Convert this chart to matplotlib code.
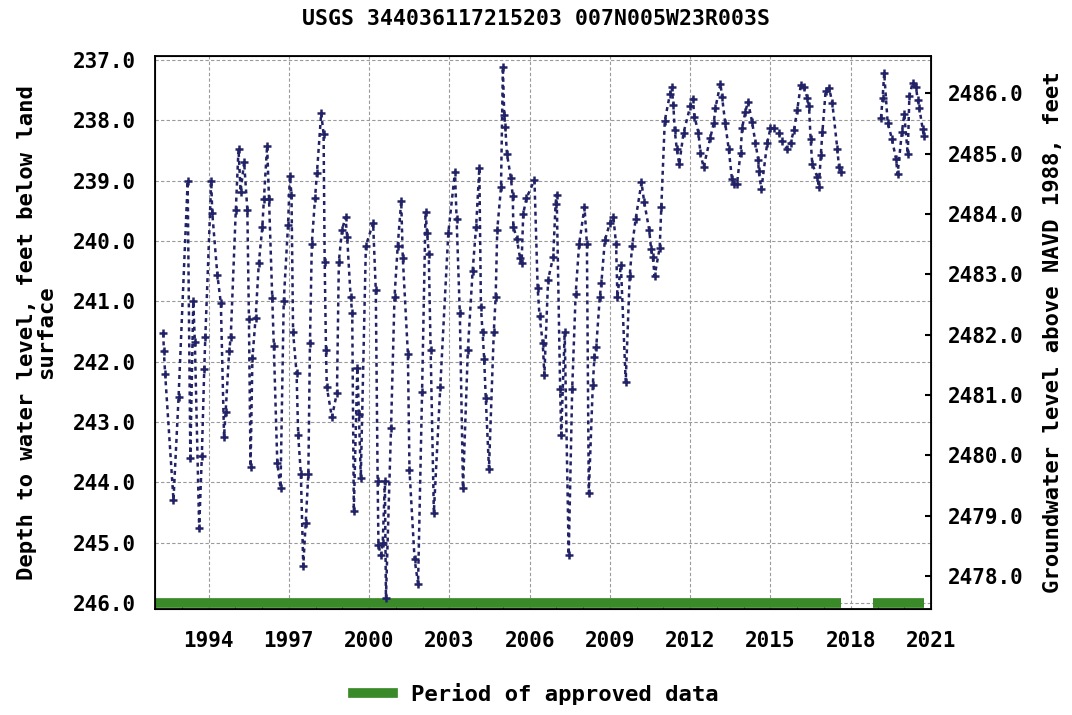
import matplotlib
matplotlib.use("Agg")
import matplotlib.pyplot as plt
from matplotlib.lines import Line2D
import numpy as np

# water level readings (decimal year, depth below land surface in feet)
years = [
    1992.31, 1992.33, 1992.38, 1992.69, 1992.88, 1993.22, 1993.32, 1993.43, 1993.49, 1993.65,
    1993.75, 1993.84, 1993.88, 1994.10, 1994.14, 1994.33, 1994.46, 1994.58, 1994.64, 1994.77,
    1994.83, 1995.02, 1995.12, 1995.20, 1995.33, 1995.45, 1995.51, 1995.57, 1995.64, 1995.76,
    1995.88, 1996.01, 1996.07, 1996.19, 1996.26, 1996.38, 1996.44, 1996.57, 1996.69, 1996.81,
    1996.97, 1997.04, 1997.10, 1997.16, 1997.29, 1997.35, 1997.45, 1997.54, 1997.63, 1997.73,
    1997.79, 1997.86, 1997.98, 1998.05, 1998.21, 1998.30, 1998.34, 1998.39, 1998.42, 1998.61,
    1998.80, 1998.87, 1998.99, 1999.12, 1999.18, 1999.31, 1999.37, 1999.43, 1999.56, 1999.62,
    1999.69, 1999.88, 2000.15, 2000.25, 2000.32, 2000.35, 2000.44, 2000.51, 2000.59, 2000.63,
    2000.82, 2000.95, 2001.07, 2001.20, 2001.26, 2001.45, 2001.51, 2001.70, 2001.83, 2001.98,
    2002.11, 2002.17, 2002.23, 2002.30, 2002.42, 2002.66, 2002.96, 2003.21, 2003.27, 2003.39,
    2003.51, 2003.69, 2003.87, 2004.00, 2004.12, 2004.18, 2004.24, 2004.30, 2004.36, 2004.48,
    2004.66, 2004.73, 2004.79, 2004.93, 2005.00, 2005.05, 2005.09, 2005.15, 2005.30, 2005.37,
    2005.39, 2005.52, 2005.64, 2005.70, 2005.76, 2005.88, 2006.18, 2006.30, 2006.37, 2006.49,
    2006.55, 2006.69, 2006.88, 2006.97, 2007.01, 2007.14, 2007.18, 2007.31, 2007.46, 2007.59,
    2007.72, 2007.85, 2008.05, 2008.14, 2008.21, 2008.36, 2008.42, 2008.49, 2008.62, 2008.68,
    2008.81, 2009.00, 2009.13, 2009.23, 2009.28, 2009.41, 2009.59, 2009.74, 2009.83, 2009.96,
    2010.18, 2010.28, 2010.47, 2010.54, 2010.60, 2010.67, 2010.86, 2010.92, 2011.05, 2011.24,
    2011.31, 2011.37, 2011.42, 2011.50, 2011.59, 2011.75, 2012.00, 2012.09, 2012.16, 2012.31,
    2012.38, 2012.50, 2012.75, 2012.88, 2012.94, 2013.13, 2013.19, 2013.31, 2013.44, 2013.56,
    2013.63, 2013.75, 2013.88, 2013.94, 2014.06, 2014.16, 2014.31, 2014.44, 2014.54, 2014.56,
    2014.66, 2014.88, 2015.00, 2015.12, 2015.31, 2015.44, 2015.63, 2015.75, 2015.88, 2016.00,
    2016.13, 2016.25, 2016.38, 2016.44, 2016.50, 2016.56, 2016.75, 2016.81, 2016.88, 2016.94,
    2017.06, 2017.19, 2017.31, 2017.50, 2017.56, 2017.63,
    2019.13, 2019.19, 2019.25, 2019.38, 2019.54, 2019.69, 2019.75, 2019.91, 2020.00, 2020.13,
    2020.19, 2020.31, 2020.44, 2020.50, 2020.56, 2020.69, 2020.73,
]
depth = [
    241.53, 241.83, 242.21, 244.29, 242.59, 239.01, 243.59, 241.00, 241.68, 244.76,
    243.56, 242.12, 241.59, 239.01, 239.54, 240.56, 241.03, 243.24, 242.83, 241.83,
    241.59, 239.48, 238.48, 239.18, 238.69, 239.48, 241.30, 243.74, 241.94, 241.27,
    240.36, 239.77, 239.30, 238.42, 239.30, 240.95, 241.74, 243.68, 244.09, 241.00,
    239.74, 238.93, 239.23, 241.51, 242.19, 243.21, 243.86, 245.38, 244.68, 243.86,
    241.69, 240.05, 239.29, 238.88, 237.88, 238.23, 240.34, 241.81, 242.42, 242.92,
    242.51, 240.34, 239.81, 239.61, 239.93, 240.93, 241.19, 244.47, 242.10, 242.86,
    243.92, 240.08, 239.70, 240.81, 243.98, 245.03, 245.21, 245.00, 243.98, 245.91,
    243.10, 240.93, 240.08, 239.34, 240.28, 241.87, 243.80, 245.27, 245.68, 242.50,
    239.52, 239.87, 240.22, 241.81, 244.50, 242.42, 239.87, 238.85, 239.64, 241.19,
    244.09, 241.81, 240.49, 239.76, 238.79, 241.10, 241.51, 241.95, 242.60, 243.77,
    241.51, 240.93, 239.81, 239.11, 237.12, 237.91, 238.11, 238.55, 238.96, 239.26,
    239.76, 239.96, 240.28, 240.37, 239.55, 239.29, 238.99, 240.78, 241.25, 241.69,
    242.22, 240.64, 240.26, 239.38, 239.23, 242.45, 243.21, 241.51, 245.20, 242.45,
    240.87, 240.05, 239.44, 240.05, 244.18, 242.39, 241.92, 241.75, 240.93, 240.70,
    239.99, 239.70, 239.61, 240.05, 240.93, 240.40, 242.33, 240.58, 240.08, 239.64,
    239.03, 239.35, 239.82, 240.14, 240.26, 240.58, 240.11, 239.44, 238.01, 237.57,
    237.45, 237.74, 238.16, 238.48, 238.73, 238.21, 237.77, 237.64, 237.94, 238.21,
    238.54, 238.78, 238.29, 238.05, 237.80, 237.39, 237.61, 238.05, 238.48, 238.97,
    239.05, 239.05, 238.54, 238.13, 237.86, 237.69, 238.02, 238.37, 238.65, 238.84,
    239.14, 238.37, 238.13, 238.13, 238.21, 238.35, 238.48, 238.37, 238.16, 237.83,
    237.42, 237.45, 237.63, 237.77, 238.31, 238.72, 238.94, 239.10, 238.58, 238.20,
    237.52, 237.46, 237.71, 238.48, 238.78, 238.86,
    237.96, 237.63, 237.22, 238.04, 238.31, 238.64, 238.89, 238.20, 237.90, 238.56,
    237.60, 237.38, 237.45, 237.66, 237.79, 238.15, 238.26,
]

# periods of approved data (start year, end year)
approved_start = [1992.0, 2018.85]
approved_end = [2017.65, 2020.75]

# land surface elevation offset, NAVD 1988
datum = 2723.55

x_ticks = [1994, 1997, 2000, 2003, 2006, 2009, 2012, 2015, 2018, 2021]
y_ticks = [237, 238, 239, 240, 241, 242, 243, 244, 245, 246]
elev_ticks = [2478, 2479, 2480, 2481, 2482, 2483, 2484, 2485, 2486]

plt.rcParams['font.family'] = ['DejaVu Sans Mono']
plt.rcParams['font.weight'] = 'bold'

fig = plt.figure(figsize=(10.72, 7.15), dpi=100)
ax = fig.add_axes([0.1446, 0.148, 0.7239, 0.7737])

yrs = np.array(years)
dep = np.array(depth)
breaks = np.where(np.diff(yrs) > 1.0)[0] + 1
for seg_x, seg_y in zip(np.split(yrs, breaks), np.split(dep, breaks)):
    ax.plot(seg_x, seg_y, color='#222266', lw=1.8, dashes=(1.6, 1.6),
            marker='+', ms=6, mew=1.8, zorder=3)

for s, e in zip(approved_start, approved_end):
    ax.plot([s, e], [0.012, 0.012], transform=ax.get_xaxis_transform(),
            color='#3a8a2a', lw=7, solid_capstyle='butt', zorder=2)

ax.set_xlim(1992.0, 2021.0)
ax.set_ylim(246.10, 236.934)
ax.set_xticks(x_ticks)
ax.set_xticks(np.arange(1992, 2022), minor=True)
ax.set_yticks(y_ticks)
ax.set_yticklabels([f"{v:.1f}" for v in y_ticks])
ax.grid(True, which='major', color='#9a9a9a', lw=0.8, dashes=(3, 2))
ax.tick_params(axis='both', which='major', labelsize=15, length=0)
ax.tick_params(axis='x', which='major', pad=16)
ax.tick_params(axis='x', which='minor', direction='in', length=3)
ax.tick_params(axis='y', pad=14)
for sp in ax.spines.values():
    sp.set_linewidth(1.3)

ax.set_ylabel("Depth to water level, feet below land\nsurface", fontsize=16,
              fontweight='bold', linespacing=0.95, labelpad=12)

ax2 = ax.twinx()
lo, hi = ax.get_ylim()
ax2.set_ylim(datum - lo, datum - hi)
ax2.set_yticks(elev_ticks)
ax2.set_yticklabels([f"{v:.1f}" for v in elev_ticks])
ax2.tick_params(axis='y', labelsize=15, direction='in', length=4, width=1.5, pad=12)
ax2.set_ylabel("Groundwater level above NAVD 1988, feet", fontsize=16,
               fontweight='bold', labelpad=14)

fig.suptitle("USGS 344036117215203 007N005W23R003S", fontsize=15.5,
             fontweight='bold', y=0.988)

handle = Line2D([], [], color='#3a8a2a', lw=7)
fig.legend([handle], ["Period of approved data"], loc='lower center',
           bbox_to_anchor=(0.5, -0.014), frameon=False, fontsize=16,
           handlelength=1.8)

fig.savefig("out.png", dpi=100)
